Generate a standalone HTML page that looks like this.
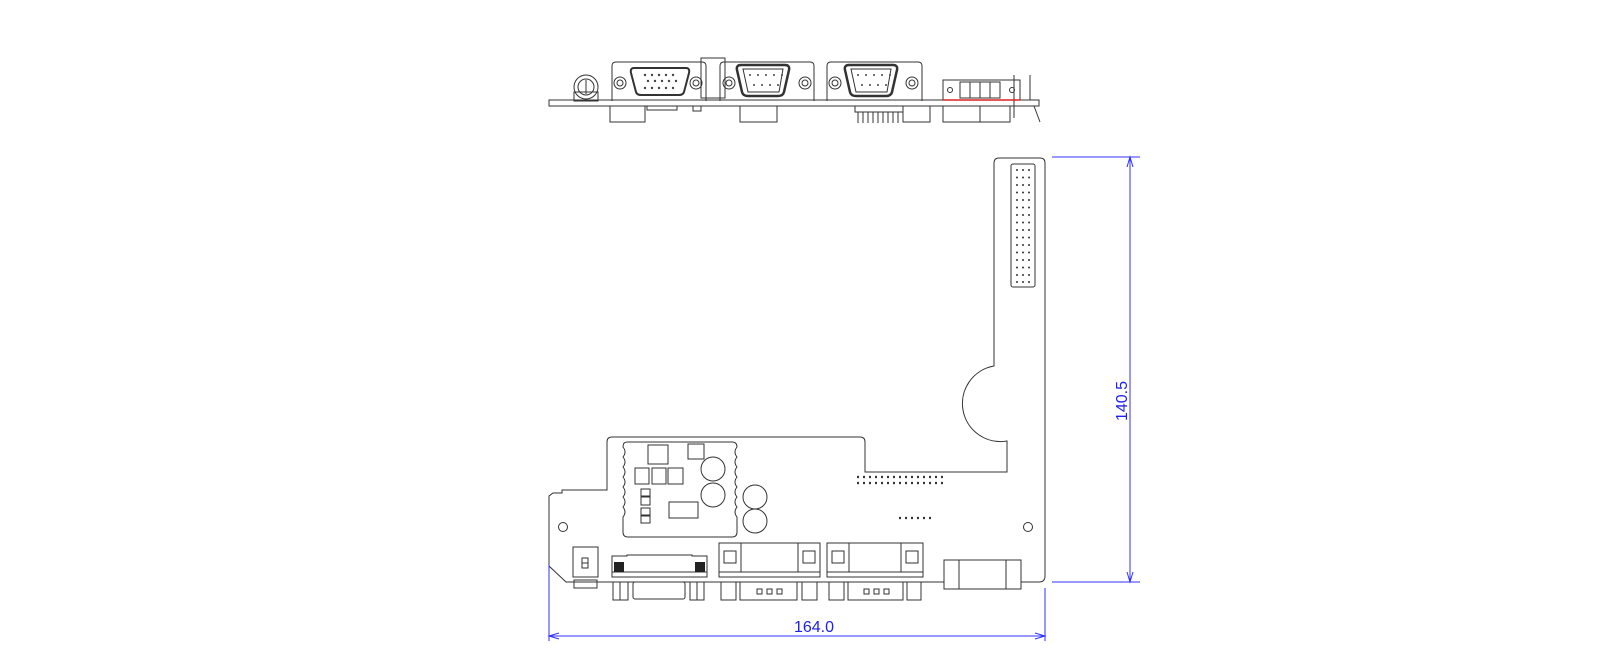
<!DOCTYPE html>
<html><head><meta charset="utf-8"><style>
html,body{margin:0;padding:0;background:#fff;}
svg{display:block;}
</style></head><body>
<svg width="1600" height="667" viewBox="0 0 1600 667" xmlns="http://www.w3.org/2000/svg" font-family="Liberation Sans, sans-serif">
<rect width="1600" height="667" fill="#fff"/>
<g fill="none" stroke="#333" stroke-width="1">
<!-- TOP VIEW -->
<rect x="549" y="100" width="490" height="6"/>
<!-- pot -->
<rect x="574" y="92" width="24" height="9"/>
<circle cx="586" cy="87" r="12"/><circle cx="586" cy="87" r="8"/>
<line x1="586" y1="80" x2="586" y2="94"/>
<!-- VGA -->
<path d="M612,101 V66 Q612,62 616,62 H702 Q706,62 706,66 V101"/>
<circle cx="620" cy="83" r="6"/><circle cx="620" cy="83" r="3"/>
<circle cx="696" cy="83" r="6"/><circle cx="696" cy="83" r="3"/>
<path d="M634,68 H686 Q690,68 689,73 L684,92 Q683,95 679,95 H641 Q637,95 636,92 L631,73 Q630,68 634,68Z" stroke-width="2"/>
<rect x="701" y="58" width="24" height="40"/>
<!-- COM1 -->
<path d="M720,101 V66 Q720,62 724,62 H810 Q814,62 814,66 V101"/>
<circle cx="729" cy="83" r="6"/><circle cx="729" cy="83" r="3"/>
<circle cx="805" cy="83" r="6"/><circle cx="805" cy="83" r="3"/>
<path d="M741,65 H785 Q790,65 789,70 L784,92 Q783,96 778,96 H748 Q743,96 742,92 L737,70 Q736,65 741,65Z" stroke-width="2.5"/>
<path d="M743,69 H783 L779,92 H748Z"/>
<!-- COM2 -->
<path d="M827,101 V66 Q827,62 831,62 H918 Q922,62 922,66 V101"/>
<circle cx="835" cy="83" r="6"/><circle cx="835" cy="83" r="3"/>
<circle cx="912" cy="83" r="6"/><circle cx="912" cy="83" r="3"/>
<path d="M849,65 H893 Q898,65 897,70 L892,92 Q891,96 886,96 H856 Q851,96 850,92 L845,70 Q844,65 849,65Z" stroke-width="2.5"/>
<path d="M851,69 H891 L887,92 H856Z"/>
<!-- terminal block -->
<rect x="943" y="80" width="77" height="20"/>
<rect x="960" y="82" width="10" height="16"/><rect x="970" y="82" width="10" height="16"/><rect x="980" y="82" width="10" height="16"/><rect x="990" y="82" width="10" height="16"/>
<circle cx="950" cy="90" r="2.5"/><circle cx="1012" cy="90" r="2.5"/>
<line x1="1014" y1="75" x2="1014" y2="118"/><line x1="1030" y1="75" x2="1030" y2="100"/>
<line x1="1034" y1="106" x2="1040" y2="122"/>
<!-- under board -->
<rect x="610" y="106" width="35" height="16"/>
<rect x="647" y="106" width="30" height="4"/>
<rect x="693" y="106" width="8" height="5"/>
<rect x="740" y="106" width="37" height="16"/>
<rect x="855" y="106" width="48" height="6"/>
<path d="M858,112V123M863,112V123M868,112V123M873,112V123M878,112V123M883,112V123M888,112V123M893,112V123M898,112V123"/>
<rect x="903" y="106" width="27" height="16"/>
<rect x="943" y="106" width="67" height="16"/>
<line x1="980" y1="106" x2="980" y2="122"/>
</g>
<g fill="#444">
<circle cx="645" cy="75" r="1.2"/><circle cx="652" cy="75" r="1.2"/><circle cx="659" cy="75" r="1.2"/><circle cx="666" cy="75" r="1.2"/><circle cx="673" cy="75" r="1.2"/>
<circle cx="648" cy="81" r="1.2"/><circle cx="655" cy="81" r="1.2"/><circle cx="662" cy="81" r="1.2"/><circle cx="669" cy="81" r="1.2"/><circle cx="676" cy="81" r="1.2"/>
<circle cx="645" cy="88" r="1.2"/><circle cx="652" cy="88" r="1.2"/><circle cx="659" cy="88" r="1.2"/><circle cx="666" cy="88" r="1.2"/><circle cx="673" cy="88" r="1.2"/>
<circle cx="750" cy="75" r="1"/><circle cx="758" cy="75" r="1"/><circle cx="766" cy="75" r="1"/><circle cx="774" cy="75" r="1"/><circle cx="782" cy="75" r="1"/>
<circle cx="754" cy="85" r="1"/><circle cx="762" cy="85" r="1"/><circle cx="770" cy="85" r="1"/><circle cx="778" cy="85" r="1"/>
<circle cx="858" cy="75" r="1"/><circle cx="866" cy="75" r="1"/><circle cx="874" cy="75" r="1"/><circle cx="882" cy="75" r="1"/><circle cx="890" cy="75" r="1"/>
<circle cx="862" cy="85" r="1"/><circle cx="870" cy="85" r="1"/><circle cx="878" cy="85" r="1"/><circle cx="886" cy="85" r="1"/>
</g>
<line x1="943" y1="100" x2="1020" y2="100" stroke="#d22" stroke-width="1.5"/>

<!-- MAIN BOARD -->
<g fill="none" stroke="#333" stroke-width="1">
<path d="M999,158 H1040 Q1045,158 1045,163 V576 Q1045,582 1039,582 H566 L549,566 V496 L553,493 H562 V490 H607 V442 Q607,437 612,437 H860 Q865,437 865,442 V472 H1007 V441 A38,38 0 0 1 994,366 V163 Q994,158 999,158Z"/>
<rect x="1011" y="164" width="24" height="123" rx="2"/>
<circle cx="563" cy="527" r="4.5"/>
<circle cx="1028" cy="527" r="4.5"/>
<!-- module -->
<path d="M627,442 H732 Q737,442 737,447 Q733,452 737,457 Q733,462 737,467 Q733,472 737,477 Q733,482 737,487 Q733,492 737,497 Q733,502 737,507 Q733,512 737,517 V532 Q737,537 732,537 H628 Q623,537 623,532 V517 Q627,512 623,507 Q627,502 623,497 Q627,492 623,487 Q627,482 623,477 Q627,472 623,467 Q627,462 623,457 Q627,452 623,447 Q623,442 627,442Z"/>
<rect x="648" y="445" width="20" height="19"/>
<rect x="688" y="444" width="16" height="15"/>
<rect x="635" y="468" width="14" height="16"/><rect x="652" y="468" width="14" height="16"/><rect x="668" y="468" width="15" height="16"/>
<rect x="641" y="489" width="9" height="7"/><rect x="641" y="497" width="9" height="8"/><rect x="641" y="508" width="9" height="7"/><rect x="641" y="516" width="9" height="7"/>
<rect x="669" y="502" width="29" height="16"/>
<circle cx="713" cy="469" r="12"/><circle cx="713" cy="495" r="12"/>
<circle cx="755" cy="497" r="12"/><circle cx="755" cy="521" r="12"/>
<!-- switch -->
<rect x="573" y="547" width="25" height="30"/>
<rect x="582" y="558" width="6" height="10"/><line x1="582" y1="563" x2="588" y2="563"/>
<rect x="574" y="580" width="23" height="8"/>
<!-- VGA -->
<path d="M612,572 V556 H627 V555 H692 V556 H707 V572"/>
<rect x="612" y="572" width="95" height="5"/>
<rect x="613" y="582" width="15" height="18"/><rect x="633" y="582" width="52" height="17" rx="2"/><rect x="690" y="582" width="14" height="18"/>
<line x1="620" y1="582" x2="620" y2="600"/><line x1="697" y1="582" x2="697" y2="600"/>
<!-- COM1 -->
<rect x="719" y="543" width="101" height="29"/><rect x="719" y="572" width="101" height="5"/>
<line x1="741" y1="543" x2="741" y2="572"/><line x1="798" y1="543" x2="798" y2="572"/>
<rect x="724" y="551" width="12" height="12"/><rect x="803" y="551" width="12" height="12"/>
<rect x="721" y="582" width="15" height="18"/><rect x="740" y="582" width="57" height="18"/><rect x="802" y="582" width="15" height="18"/>
<rect x="757" y="589" width="5" height="5"/><rect x="767" y="589" width="5" height="5"/><rect x="777" y="589" width="5" height="5"/>
<!-- COM2 -->
<rect x="827" y="543" width="96" height="29"/><rect x="827" y="572" width="96" height="5"/>
<line x1="849" y1="543" x2="849" y2="572"/><line x1="901" y1="543" x2="901" y2="572"/>
<rect x="832" y="551" width="12" height="12"/><rect x="906" y="551" width="12" height="12"/>
<rect x="829" y="582" width="15" height="18"/><rect x="848" y="582" width="55" height="18"/><rect x="907" y="582" width="14" height="18"/>
<rect x="864" y="589" width="5" height="5"/><rect x="874" y="589" width="5" height="5"/><rect x="884" y="589" width="5" height="5"/>
<!-- terminal -->
<rect x="944" y="560" width="77" height="29" fill="#fff"/>
<line x1="959" y1="560" x2="959" y2="589"/><line x1="1006" y1="560" x2="1006" y2="589"/>
</g>
<g fill="#222">
<rect x="614" y="562" width="10" height="10"/><rect x="695" y="562" width="10" height="10"/>
</g>
<g fill="#333">
<circle cx="1017" cy="170" r="1"/><circle cx="1023" cy="170" r="1"/><circle cx="1029" cy="170" r="1"/>
<circle cx="1017" cy="177.5" r="1"/><circle cx="1023" cy="177.5" r="1"/><circle cx="1029" cy="177.5" r="1"/>
<circle cx="1017" cy="185" r="1"/><circle cx="1023" cy="185" r="1"/><circle cx="1029" cy="185" r="1"/>
<circle cx="1017" cy="192.5" r="1"/><circle cx="1023" cy="192.5" r="1"/><circle cx="1029" cy="192.5" r="1"/>
<circle cx="1017" cy="200" r="1"/><circle cx="1023" cy="200" r="1"/><circle cx="1029" cy="200" r="1"/>
<circle cx="1017" cy="207.5" r="1"/><circle cx="1023" cy="207.5" r="1"/><circle cx="1029" cy="207.5" r="1"/>
<circle cx="1017" cy="215" r="1"/><circle cx="1023" cy="215" r="1"/><circle cx="1029" cy="215" r="1"/>
<circle cx="1017" cy="222.5" r="1"/><circle cx="1023" cy="222.5" r="1"/><circle cx="1029" cy="222.5" r="1"/>
<circle cx="1017" cy="230" r="1"/><circle cx="1023" cy="230" r="1"/><circle cx="1029" cy="230" r="1"/>
<circle cx="1017" cy="237.5" r="1"/><circle cx="1023" cy="237.5" r="1"/><circle cx="1029" cy="237.5" r="1"/>
<circle cx="1017" cy="245" r="1"/><circle cx="1023" cy="245" r="1"/><circle cx="1029" cy="245" r="1"/>
<circle cx="1017" cy="252.5" r="1"/><circle cx="1023" cy="252.5" r="1"/><circle cx="1029" cy="252.5" r="1"/>
<circle cx="1017" cy="260" r="1"/><circle cx="1023" cy="260" r="1"/><circle cx="1029" cy="260" r="1"/>
<circle cx="1017" cy="267.5" r="1"/><circle cx="1023" cy="267.5" r="1"/><circle cx="1029" cy="267.5" r="1"/>
<circle cx="1017" cy="275" r="1"/><circle cx="1023" cy="275" r="1"/><circle cx="1029" cy="275" r="1"/>
<circle cx="1017" cy="282" r="1"/><circle cx="1023" cy="282" r="1"/><circle cx="1029" cy="282" r="1"/>
</g>
<g stroke="#333" stroke-width="2.2" stroke-dasharray="2,4">
<line x1="857" y1="477" x2="946" y2="477"/>
<line x1="857" y1="483" x2="946" y2="483"/>
<line x1="899" y1="518" x2="932" y2="518"/>
</g>
<!-- DIMENSIONS -->
<g stroke="#3030ff" stroke-width="1" fill="none">
<line x1="1052" y1="157" x2="1140" y2="157"/>
<line x1="1052" y1="582" x2="1140" y2="582"/>
<line x1="1130" y1="157" x2="1130" y2="582"/>
<path d="M1127,167 L1130,157 L1133,167 M1127,572 L1130,582 L1133,572"/>
<line x1="549" y1="565" x2="549" y2="641"/>
<line x1="1045" y1="588" x2="1045" y2="641"/>
<line x1="549" y1="636" x2="1045" y2="636"/>
<path d="M559,633 L549,636 L559,639 M1035,633 L1045,636 L1035,639"/>
</g>
<g fill="#2020ee" font-size="16">
<text x="814" y="632" text-anchor="middle">164.0</text>
<text transform="translate(1127,401) rotate(-90)" text-anchor="middle">140.5</text>
</g>
</svg>
</body></html>
